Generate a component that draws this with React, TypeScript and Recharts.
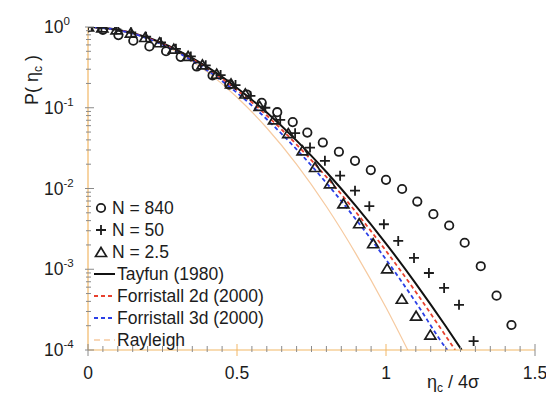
import React from "react";
import { ComposedChart, Scatter, Line, XAxis, YAxis, Legend } from "recharts";

// N = 840 (circles)
const circleX = [0, 0.05, 0.102, 0.152, 0.206, 0.262, 0.311, 0.365, 0.418, 0.474, 0.533, 0.583, 0.635, 0.687, 0.736, 0.788, 0.842, 0.896, 0.949, 1.0, 1.054, 1.105, 1.159, 1.212, 1.264, 1.318, 1.371, 1.421];
const circleP = [0.989, 0.923, 0.794, 0.676, 0.575, 0.501, 0.427, 0.324, 0.251, 0.193, 0.146, 0.115, 0.0881, 0.0664, 0.0492, 0.0371, 0.0285, 0.022, 0.0169, 0.0128, 0.00986, 0.00689, 0.00481, 0.00348, 0.00213, 0.00109, 0.000471, 0.000204];

// N = 50 (plus)
const plusX = [0, 0.045, 0.095, 0.145, 0.195, 0.245, 0.295, 0.345, 0.395, 0.445, 0.495, 0.545, 0.595, 0.645, 0.695, 0.745, 0.795, 0.846, 0.896, 0.944, 0.993, 1.041, 1.094, 1.144, 1.195, 1.245, 1.294];
const plusP = [1, 0.984, 0.933, 0.855, 0.759, 0.646, 0.537, 0.432, 0.335, 0.254, 0.191, 0.14, 0.1, 0.0708, 0.0484, 0.0321, 0.022, 0.0144, 0.0094, 0.00604, 0.00361, 0.00224, 0.00138, 0.000899, 0.000587, 0.000363, 0.000129];

// N = 2.5 (triangles)
const triX = [0, 0.048, 0.096, 0.144, 0.192, 0.24, 0.288, 0.336, 0.384, 0.432, 0.48, 0.528, 0.576, 0.624, 0.672, 0.72, 0.762, 0.812, 0.857, 0.91, 0.957, 1.004, 1.053, 1.101, 1.149];
const triP = [1, 0.977, 0.923, 0.841, 0.741, 0.638, 0.531, 0.432, 0.339, 0.26, 0.197, 0.148, 0.104, 0.0708, 0.0479, 0.0292, 0.0182, 0.0114, 0.00644, 0.00366, 0.00207, 0.00101, 0.000425, 0.000262, 0.000153];

// curves
const tayfunX = [0, 0.1, 0.2, 0.3, 0.4, 0.5, 0.6, 0.7, 0.8, 0.9, 1.0, 1.1, 1.2, 1.254];
const tayfunP = [1, 0.925, 0.74, 0.517, 0.32, 0.176, 0.0873, 0.0392, 0.016, 0.00601, 0.00208, 0.000665, 0.000198, 0.0001];

const forr2dX = [0, 0.1, 0.2, 0.3, 0.4, 0.5, 0.6, 0.7, 0.8, 0.9, 1.0, 1.1, 1.2, 1.232];
const forr2dP = [1, 0.922, 0.73, 0.504, 0.306, 0.165, 0.0801, 0.035, 0.0139, 0.00506, 0.00169, 0.000523, 0.00015, 0.0001];

const forr3dX = [0, 0.1, 0.2, 0.3, 0.4, 0.5, 0.6, 0.7, 0.8, 0.9, 1.0, 1.1, 1.2, 1.206];
const forr3dP = [1, 0.917, 0.719, 0.488, 0.29, 0.153, 0.072, 0.0305, 0.0117, 0.0041, 0.00132, 0.00039, 0.000107, 0.0001];

const rayleighX = [0, 0.1, 0.2, 0.3, 0.4, 0.5, 0.6, 0.7, 0.8, 0.9, 1.0, 1.073];
const rayleighP = [1, 0.923, 0.726, 0.487, 0.278, 0.135, 0.0561, 0.0199, 0.00598, 0.00153, 0.000336, 0.0001];

// ticks
const xTicks = [0, 0.05, 0.1, 0.15, 0.2, 0.25, 0.3, 0.35, 0.4, 0.45, 0.5, 0.55, 0.6, 0.65, 0.7, 0.75, 0.8, 0.85, 0.9, 0.95, 1, 1.05, 1.1, 1.15, 1.2, 1.25, 1.3, 1.35, 1.4, 1.45, 1.5];
const xMajor = [0, 0.5, 1, 1.5];
const xLabels = ["0", "0.5", "1", "1.5"];
const decades = [1e-4, 1e-3, 1e-2, 1e-1, 1];
const minorMult = [2, 3, 4, 5, 6, 7, 8, 9];
const yTicks = [...decades, ...decades.slice(0, 4).flatMap((d) => minorMult.map((m) => m * d))];

const pts = (xs: number[], ps: number[]) => xs.map((x, i) => ({ x, p: ps[i] }));

const ORANGE = "#f2b766";
const GREY = "#8a8a8a";
const INK = "#1c1c1c";
const FONT = "'Liberation Sans', Arial, sans-serif";

const isDecade = (v: number) => Math.abs(Math.log10(v) - Math.round(Math.log10(v))) < 1e-9;

function CircleMark(props: any) {
  return <circle cx={props.cx} cy={props.cy} r={4.2} fill="none" stroke={INK} strokeWidth={1.8} />;
}
function PlusMark(props: any) {
  const { cx, cy } = props;
  return <path d={`M${cx - 5},${cy}H${cx + 5}M${cx},${cy - 5}V${cy + 5}`} stroke={INK} strokeWidth={1.8} />;
}
function TriMark(props: any) {
  const { cx, cy } = props;
  return <path d={`M${cx},${cy - 5}L${cx + 5.5},${cy + 4}L${cx - 5.5},${cy + 4}Z`} fill="none" stroke={INK} strokeWidth={1.7} />;
}

function LeftTick(props: any) {
  const { x, y, payload } = props;
  const v = payload.value;
  if (isDecade(v)) {
    const e = Math.round(Math.log10(v));
    return (
      <g>
        <line x1={x - 3} x2={x + 6} y1={y} y2={y} stroke={GREY} strokeWidth={1} />
        <text x={x - 44} y={y + 6} fontSize={17.5} fill={INK} fontFamily={FONT}>
          10
          <tspan dy={-8} fontSize={11.5}>{e}</tspan>
        </text>
      </g>
    );
  }
  return <line x1={x - 2} x2={x + 3} y1={y} y2={y} stroke={GREY} strokeWidth={1} />;
}

function RightTick(props: any) {
  const { x, y, payload } = props;
  const major = isDecade(payload.value);
  return <line x1={x} x2={x - (major ? 7 : 4)} y1={y} y2={y} stroke={major ? "#d8b060" : "#9a9a9a"} strokeWidth={1} />;
}

function BottomTick(props: any) {
  const { x, y, payload } = props;
  const i = xMajor.indexOf(payload.value);
  if (i >= 0) {
    return (
      <g>
        <line x1={x} x2={x} y1={y - 6} y2={y + 6} stroke={i === 0 || i === 3 ? GREY : ORANGE} strokeWidth={1} />
        <text x={x} y={y + 29} textAnchor="middle" fontSize={17.5} fill={INK} fontFamily={FONT}>
          {xLabels[i]}
        </text>
      </g>
    );
  }
  return <line x1={x} x2={x} y1={y - 4} y2={y + 2} stroke={GREY} strokeWidth={1} />;
}

function TopTick(props: any) {
  const { x, y, payload } = props;
  const major = xMajor.indexOf(payload.value) > 0 && payload.value < 1.5;
  return <line x1={x} x2={x} y1={y - (major ? 8 : 5)} y2={y + (major ? 2 : 0)} stroke={major ? ORANGE : "#9a9a9a"} strokeWidth={1} />;
}

const legendRows = [
  { label: "N = 840", kind: "circle" },
  { label: "N = 50", kind: "plus" },
  { label: "N = 2.5", kind: "tri" },
  { label: "Tayfun (1980)", kind: "line", color: "#111", dash: "" },
  { label: "Forristall 2d (2000)", kind: "line", color: "#e8402e", dash: "4 3" },
  { label: "Forristall 3d (2000)", kind: "line", color: "#2b3fe6", dash: "4 3" },
  { label: "Rayleigh", kind: "line", color: "#f6caa0", dash: "6 4" },
];

function LegendBox() {
  return (
    <div style={{ fontFamily: FONT, fontSize: 17.5, color: INK }}>
      {legendRows.map((r) => (
        <div key={r.label} style={{ height: 22, display: "flex", alignItems: "center", whiteSpace: "nowrap" }}>
          {r.kind === "line" ? (
            <svg width={22} height={10} style={{ marginRight: 1 }}>
              <line x1={0} x2={21} y1={5} y2={5} stroke={r.color} strokeWidth={r.label === "Rayleigh" ? 1.3 : 2} strokeDasharray={r.dash} />
            </svg>
          ) : (
            <svg width={16} height={14} style={{ marginRight: 2 }}>
              {r.kind === "circle" && <CircleMark cx={7} cy={7} />}
              {r.kind === "plus" && <PlusMark cx={7} cy={7} />}
              {r.kind === "tri" && <TriMark cx={7} cy={7.5} />}
            </svg>
          )}
          <span>{r.label}</span>
        </div>
      ))}
    </div>
  );
}

export default function App() {
  return (
    <div style={{ position: "absolute", left: 0, top: 0, width: 546, height: 400, background: "#fff" }}>
      <ComposedChart width={546} height={400} margin={{ top: 27, right: 11, bottom: 0, left: 28 }}>
        <XAxis
          xAxisId="b"
          dataKey="x"
          type="number"
          domain={[0, 1.5]}
          ticks={xTicks}
          interval={0}
          height={50}
          tickSize={0}
          tickMargin={0}
          tick={<BottomTick />}
          axisLine={{ stroke: ORANGE, strokeWidth: 1.2 }}
          allowDataOverflow
          label={{
            content: () => (
              <text x={427} y={388} fontSize={18} fill={INK} fontFamily={FONT}>
                η<tspan fontSize={12} dy={4}>c</tspan>
                <tspan dy={-4}> / 4σ</tspan>
              </text>
            ),
          }}
        />
        <XAxis
          xAxisId="t"
          orientation="top"
          dataKey="x"
          type="number"
          domain={[0, 1.5]}
          ticks={xTicks}
          interval={0}
          height={0}
          tickSize={0}
          tickMargin={0}
          tick={<TopTick />}
          axisLine={false}
          allowDataOverflow
        />
        <YAxis
          yAxisId="l"
          dataKey="p"
          scale="log"
          type="number"
          domain={[1e-4, 1]}
          ticks={yTicks}
          interval={0}
          width={60}
          tickSize={0}
          tickMargin={0}
          tick={<LeftTick />}
          axisLine={{ stroke: ORANGE, strokeWidth: 1.2 }}
          allowDataOverflow
          label={{
            content: () => (
              <text transform="translate(38,80) rotate(-90)" textAnchor="middle" fontSize={18} fill={INK} fontFamily={FONT}>
                P( η<tspan fontSize={12} dy={4}>c</tspan>
                <tspan dy={-4}> )</tspan>
              </text>
            ),
          }}
        />
        <YAxis
          yAxisId="r"
          orientation="right"
          dataKey="p"
          scale="log"
          type="number"
          domain={[1e-4, 1]}
          ticks={yTicks}
          interval={0}
          width={0}
          tickSize={0}
          tickMargin={0}
          tick={<RightTick />}
          axisLine={{ stroke: "#a0a0a0", strokeWidth: 1 }}
          allowDataOverflow
        />
        <Legend content={<LegendBox />} layout="vertical" align="center" verticalAlign="middle" wrapperStyle={{ left: 94, top: 197, width: 220 }} />
        <Scatter xAxisId="b" yAxisId="l" name="N = 840" data={pts(circleX, circleP)} shape={<CircleMark />} isAnimationActive={false} />
        <Scatter xAxisId="b" yAxisId="l" name="N = 50" data={pts(plusX, plusP)} shape={<PlusMark />} isAnimationActive={false} />
        <Scatter xAxisId="b" yAxisId="l" name="N = 2.5" data={pts(triX, triP)} shape={<TriMark />} isAnimationActive={false} />
        <Line xAxisId="b" yAxisId="l" data={pts(rayleighX, rayleighP)} dataKey="p" type="monotone" stroke="#f6caa0" strokeWidth={1.2} dot={false} isAnimationActive={false} />
        <Line xAxisId="b" yAxisId="l" data={pts(tayfunX, tayfunP)} dataKey="p" type="monotone" stroke="#111" strokeWidth={2} dot={false} isAnimationActive={false} />
        <Line xAxisId="b" yAxisId="l" data={pts(forr2dX, forr2dP)} dataKey="p" type="monotone" stroke="#e8402e" strokeWidth={1.8} strokeDasharray="4 3" dot={false} isAnimationActive={false} />
        <Line xAxisId="b" yAxisId="l" data={pts(forr3dX, forr3dP)} dataKey="p" type="monotone" stroke="#2b3fe6" strokeWidth={1.8} strokeDasharray="4 3" dot={false} isAnimationActive={false} />
      </ComposedChart>
    </div>
  );
}
